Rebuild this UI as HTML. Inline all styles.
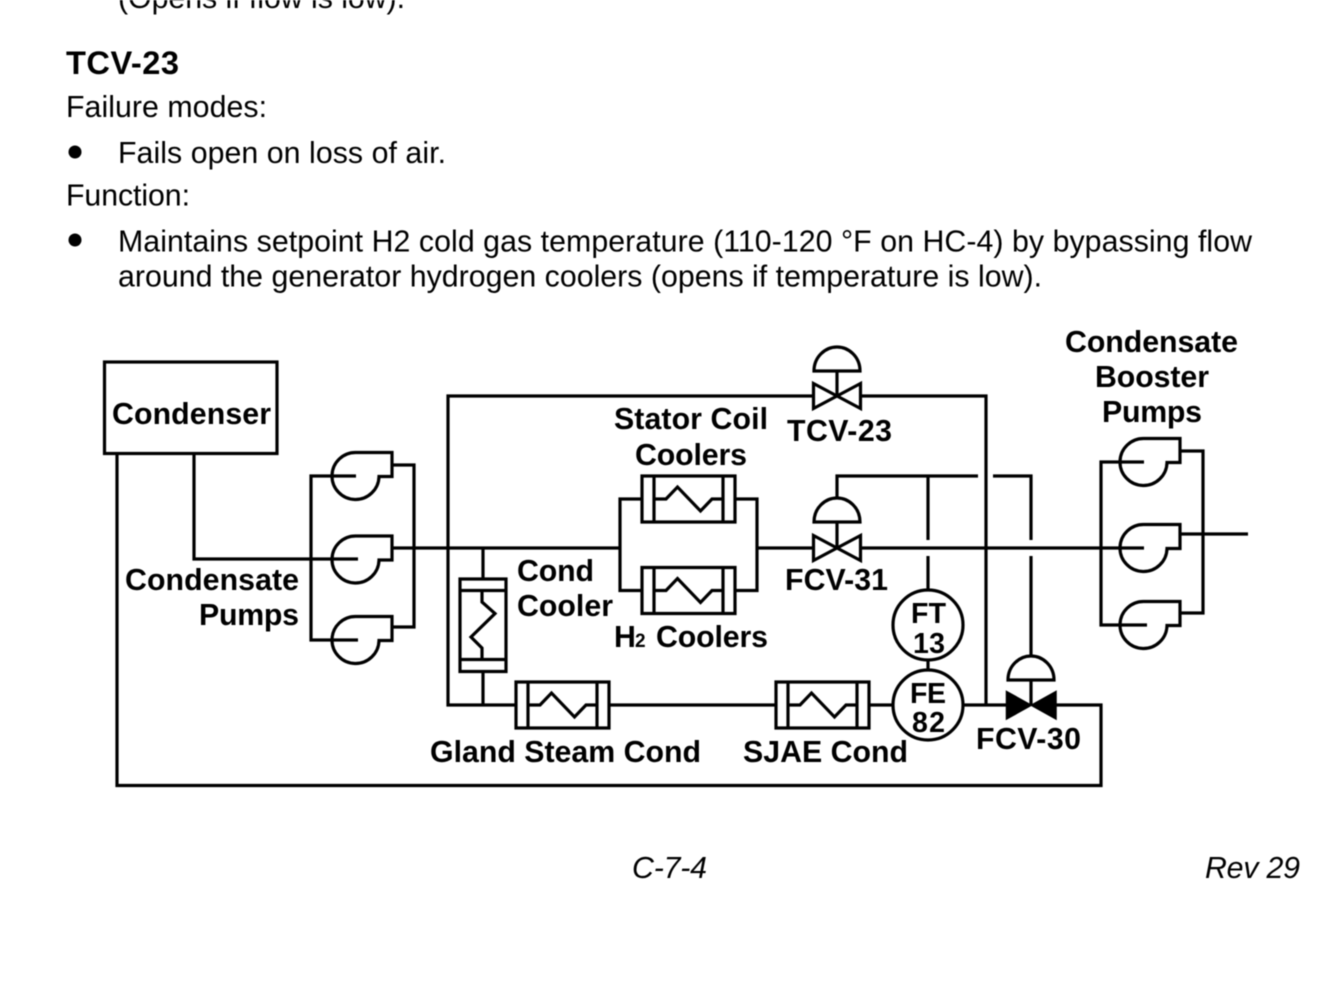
<!DOCTYPE html>
<html><head><meta charset="utf-8"><style>
html,body{margin:0;padding:0;background:#fff;width:1334px;height:1001px;overflow:hidden}
svg{display:block;filter:blur(0.4px)}
text{font-family:"Liberation Sans",sans-serif;fill:#000}
.r{font-size:30.3px}
.b{font-size:30.3px;font-weight:bold}
.h{font-size:32.6px;font-weight:bold}
.t{font-size:28.5px;font-weight:bold}
.i{font-size:30.3px;font-style:italic}
.s{fill:none;stroke:#000;stroke-width:3.2;stroke-linejoin:miter;stroke-linecap:butt}
</style></head><body>
<svg width="1334" height="1001" viewBox="0 0 1334 1001" xmlns="http://www.w3.org/2000/svg">
<defs>
<g id="pump"><path class="s" d="M0 -23.5H36V0.5H23A23.5 23.5 0 1 1 0 -23.5Z"/></g>
<g id="hx"><path class="s" d="M-46.500 -23H46.500V23H-46.500ZM-34.500 -23V23M34.500 -23V23M-34.500 0H-22.500L-11 -12L12 12L23.500 0H34.500"/></g>
<g id="dome"><path class="s" d="M-23 0H23C23 -14 12 -24 0 -24C-12 -24 -23 -14 -23 0Z"/></g>
<g id="valve"><path class="s" d="M-23.500 -12.500L23.500 12.500V-12.500L-23.500 12.500Z"/></g>
</defs>

<text class="r" x="118" y="8" textLength="287">(Opens if flow is low).</text>
<text class="h" x="66" y="74" textLength="113">TCV-23</text>
<text class="r" x="66" y="117" textLength="201">Failure modes:</text>
<circle cx="75" cy="152" r="6.500"/>
<text class="r" x="118" y="162.800" textLength="328">Fails open on loss of air.</text>
<text class="r" x="66" y="205.500" textLength="124">Function:</text>
<circle cx="75" cy="240" r="6.500"/>
<text class="r" x="118" y="251.500" textLength="1134">Maintains setpoint H2 cold gas temperature (110-120 °F on HC-4) by bypassing flow</text>
<text class="r" x="118" y="286.500" textLength="924">around the generator hydrogen coolers (opens if temperature is low).</text>

<rect class="s" x="104.500" y="362" width="172.500" height="91.500"/>
<path class="s" d="M117 453.500V785.500H1101V705H1056"/>
<path class="s" d="M194 453.500V559H358"/>

<use href="#pump" x="356" y="476"/>
<use href="#pump" x="356" y="559.500"/>
<use href="#pump" x="356" y="640"/>
<path class="s" d="M356 476H311V640H358"/>
<path class="s" d="M392 465H414V627H392"/>
<path class="s" d="M392 548H620"/>

<use href="#pump" x="1144" y="462"/>
<use href="#pump" x="1144" y="548"/>
<use href="#pump" x="1144" y="625"/>
<path class="s" d="M1144 462H1101V625H1147"/>
<path class="s" d="M1181 451H1203V613H1181"/>
<path class="s" d="M1181 534H1248"/>
<path class="s" d="M860 548H1144"/>

<path class="s" d="M813 396H448V705H517"/>
<path class="s" d="M861 396H986V705"/>
<path class="s" d="M483 548V579M483 672V705"/>

<path class="s" d="M460 579H506V671.500H460ZM460 590.500H506M460 659.500H506M482 590.500V602L495 613.500L471 637L482 648V659.500"/>

<use href="#hx" x="562.500" y="705"/>
<use href="#hx" x="822.500" y="705"/>
<path class="s" d="M609 705H776M869 705H893"/>

<use href="#hx" x="688.500" y="499"/>
<use href="#hx" x="688.500" y="590.500"/>
<path class="s" d="M642 499H620V590.500H642M735 499H757V590.500H735M757 548H813"/>

<use href="#valve" x="837" y="396"/>
<use href="#dome" x="837" y="371"/>
<path class="s" d="M837 371V396"/>

<use href="#valve" x="837" y="548"/>
<use href="#dome" x="837" y="522"/>
<path class="s" d="M837 522V548M837 498V476H978M993 476H1031V540M1031 556V656M928 476V540M928 556V590"/>

<path d="M1006.500 691.500L1056 719V691.500L1006.500 719Z" stroke="#000" stroke-width="1.500"/>
<use href="#dome" x="1031" y="680"/>
<path class="s" d="M1031 680V705M963 705H1007"/>

<circle class="s" cx="928" cy="625" r="35"/>
<circle class="s" cx="928" cy="705" r="35"/>
<path class="s" d="M928 660V670"/>

<text class="b" x="112" y="424" textLength="159">Condenser</text>
<text class="b" x="125" y="590" textLength="174">Condensate</text>
<text class="b" x="199" y="625" textLength="100">Pumps</text>
<text class="b" x="614" y="429" textLength="154">Stator Coil</text>
<text class="b" x="635" y="465" textLength="112">Coolers</text>
<text class="b" x="787" y="441" textLength="105">TCV-23</text>
<text class="b" x="1065" y="352" textLength="173">Condensate</text>
<text class="b" x="1095" y="387" textLength="114">Booster</text>
<text class="b" x="1102" y="422" textLength="100">Pumps</text>
<text class="b" x="517" y="581" textLength="77">Cond</text>
<text class="b" x="517" y="616" textLength="96">Cooler</text>
<text class="b" x="785" y="590" textLength="103">FCV-31</text>
<text class="b" x="614" y="647">H</text>
<text class="b" x="635" y="647" style="font-size:19px">2</text>
<text class="b" x="656" y="647" textLength="112">Coolers</text>
<text class="t" x="911" y="623" textLength="35">FT</text>
<text class="t" x="913" y="653" textLength="32">13</text>
<text class="t" x="910" y="703" textLength="36">FE</text>
<text class="t" x="912" y="732" textLength="33">82</text>
<text class="b" x="430" y="762" textLength="271">Gland Steam Cond</text>
<text class="b" x="743" y="762" textLength="165">SJAE Cond</text>
<text class="b" x="976" y="749" textLength="105">FCV-30</text>

<text class="i" x="632" y="878" textLength="75">C-7-4</text>
<text class="i" x="1205" y="878" textLength="95">Rev 29</text>
</svg>
</body></html>
